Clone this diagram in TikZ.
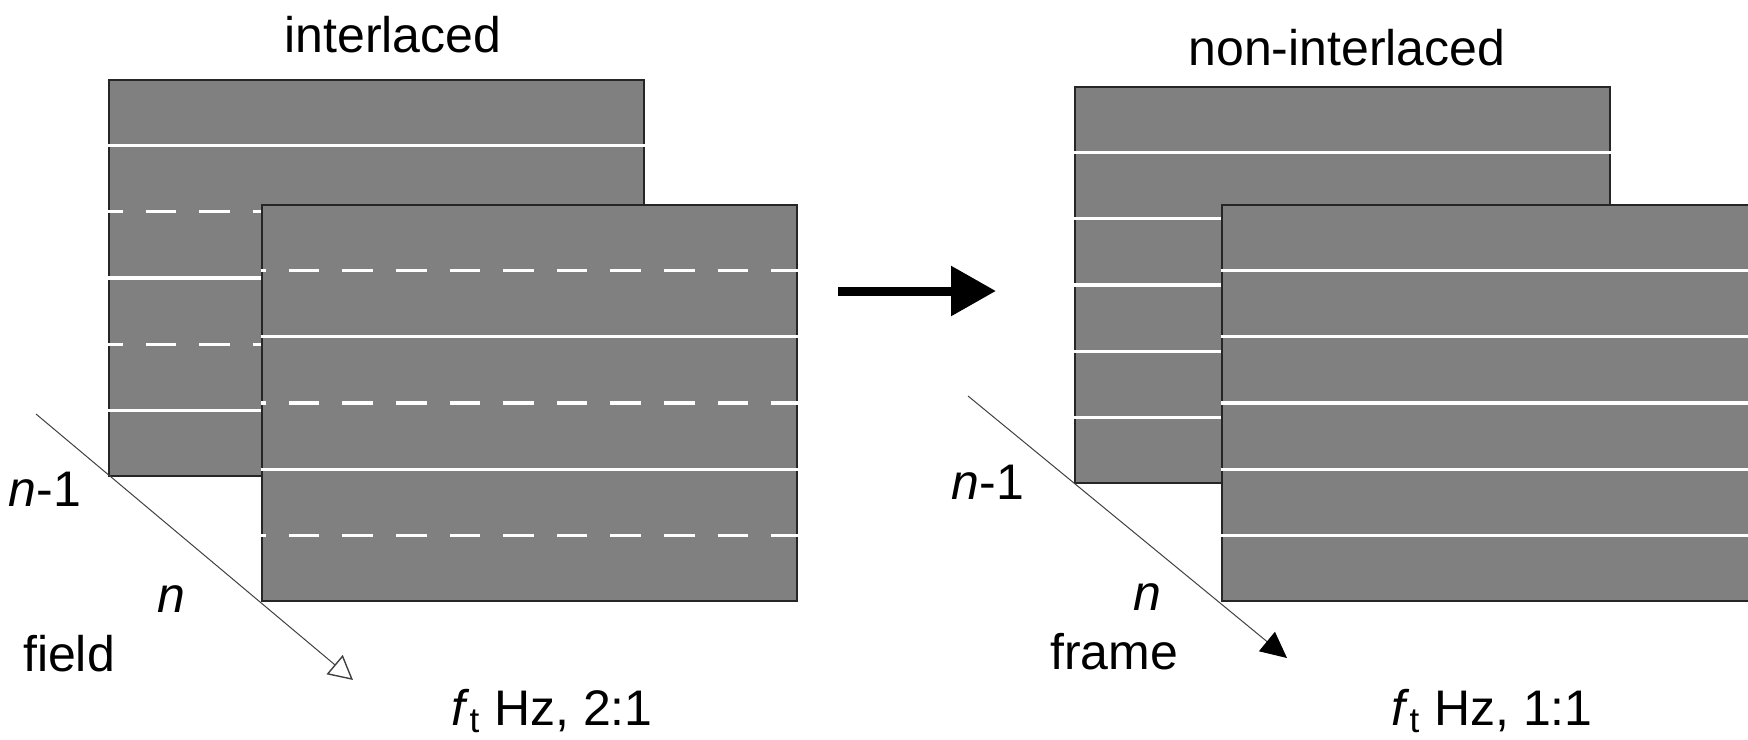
\documentclass[tikz,border=0pt]{standalone}
\usepackage{fontspec}
\setmainfont{Liberation Sans}
\usetikzlibrary{positioning}
\usetikzlibrary{arrows.meta}
\usetikzlibrary{calc}

\tikzset{
    picbox/.style={draw=black!85, line width=1pt, fill=black!50, anchor=north west,
        minimum width=267.5pt, minimum height=198pt, inner sep=0pt},
    scanline/.style={white, line width=1.8pt},
    scandash/.style={scanline, dash pattern=on 15.3pt off 11.5pt},
    timeaxis/.style={draw=black!75, line width=0.5pt},
    lbl/.style={anchor=base, inner sep=0pt, font=\fontsize{25}{30}\selectfont}
}

\begin{document}
\begin{tikzpicture}[x=0.5pt, y=-0.5pt]
        \useasboundingbox (0,0) rectangle (1748,739);
        \clip (0,0) rectangle (1748,739);

        % interlaced: two fields
        \node[picbox] (backI) at (108,79) {};
        \foreach \k in {1,3,5}
            \draw[scanline] ($(backI.north west)!\k/6!(backI.south west)$) -- ($(backI.north east)!\k/6!(backI.south east)$);
        \foreach \k in {2,4}
            \draw[scandash, dash phase=8pt] ($(backI.north west)!\k/6!(backI.south west)$) -- ($(backI.north east)!\k/6!(backI.south east)$);
        \node[picbox] (frontI) at (261,204) {};
        \foreach \k in {2,4}
            \draw[scanline] ($(frontI.north west)!\k/6!(frontI.south west)$) -- ($(frontI.north east)!\k/6!(frontI.south east)$);
        \foreach \k in {1,3,5}
            \draw[scandash, dash phase=12.9pt] ($(frontI.north west)!\k/6!(frontI.south west)$) -- ($(frontI.north east)!\k/6!(frontI.south east)$);

        % non-interlaced: two frames
        \node[picbox] (backP) at (1074,86) {};
        \foreach \k in {1,...,5}
            \draw[scanline] ($(backP.north west)!\k/6!(backP.south west)$) -- ($(backP.north east)!\k/6!(backP.south east)$);
        \node[picbox] (frontP) at (1221,204) {};
        \foreach \k in {1,...,5}
            \draw[scanline] ($(frontP.north west)!\k/6!(frontP.south west)$) -- ($(frontP.north east)!\k/6!(frontP.south east)$);

        % conversion arrow
        \coordinate (convA) at (838,291);
        \coordinate (convB) at (996,291);
        \draw[line width=4.5pt, -{Triangle[length=22.5pt, width=24pt]}] (convA) -- (convB);

        % time axes
        \coordinate (axisI0) at (36,414);
        \coordinate (axisI1) at (353,680);
        \draw[timeaxis, -{Triangle[open, length=12pt, width=12.5pt, line width=0.7pt]}] (axisI0) -- (axisI1);
        \coordinate (axisP0) at (968,396);
        \coordinate (axisP1) at (1287,658);
        \draw[timeaxis, -{Triangle[length=13pt, width=12.5pt, color=black]}] (axisP0) -- (axisP1);

        % labels
        \node[lbl] (titleI) at (393,52) {interlaced};
        \node[lbl] (titleP) at (1347,65) {non-interlaced};
        \node[lbl] (rateI) at (552,725) {\textit{f}\textsubscript{t} Hz, 2:1};
        \node[lbl] (rateP) at (1492,725) {\textit{f}\textsubscript{t} Hz, 1:1};
        \node[lbl] (prevI) at (45,506) {\textit{n}-1};
        \node[lbl] (curI) at (171,612) {\textit{n}};
        \node[lbl] (unitI) at (69,671) {field};
        \node[lbl] (prevP) at (988,499) {\textit{n}-1};
        \node[lbl] (curP) at (1147,610) {\textit{n}};
        \node[lbl] (unitP) at (1114,669) {frame};
\end{tikzpicture}
\end{document}
